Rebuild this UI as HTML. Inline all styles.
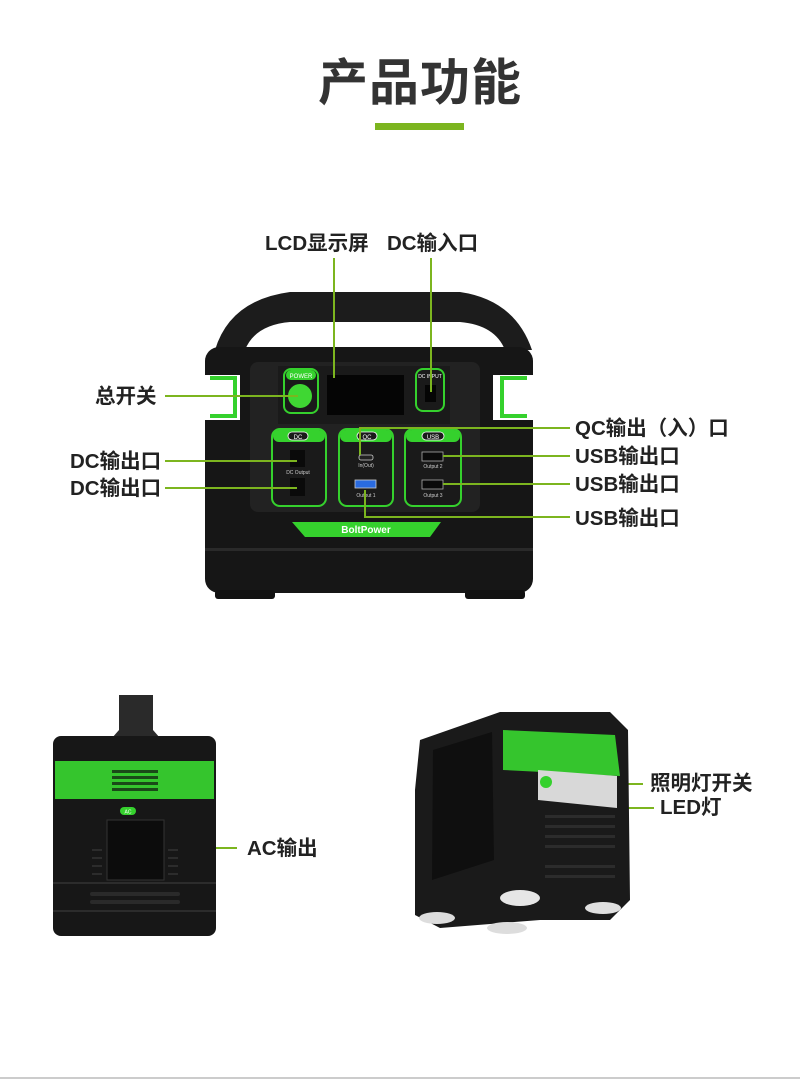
<!DOCTYPE html>
<html><head><meta charset="utf-8"><style>
html,body{margin:0;padding:0;background:#fff}
svg{display:block}
text{font-family:"Liberation Sans","Noto Sans CJK SC",sans-serif}
</style></head><body>
<svg width="800" height="1082" viewBox="0 0 800 1082" xmlns="http://www.w3.org/2000/svg">
<rect width="800" height="1082" fill="#fff"/>
<text x="420" y="100" font-size="50" font-weight="bold" fill="#333" text-anchor="middle" letter-spacing="1">产品功能</text>
<rect x="375" y="123" width="89" height="7" fill="#7cb51f"/>

<!-- main device -->
<path d="M215 350 Q230 300 290 292 L460 292 Q515 300 532 350 L505 350 Q495 325 460 322 L290 322 Q255 325 245 350Z" fill="#1c1c1c"/>
<rect x="205" y="347" width="328" height="246" rx="14" fill="#161616"/>
<rect x="205" y="375" width="35" height="45" fill="#fff"/>
<rect x="493" y="375" width="40" height="45" fill="#fff"/>
<path d="M210 378 h25 v38 h-25" fill="none" stroke="#35d12d" stroke-width="4"/>
<path d="M527 378 h-25 v38 h25" fill="none" stroke="#35d12d" stroke-width="4"/>
<rect x="250" y="362" width="230" height="150" rx="8" fill="#222"/>
<rect x="278" y="366" width="172" height="58" fill="#1a1a1a"/>
<rect x="284" y="369" width="34" height="44" rx="7" fill="#1a1a1a" stroke="#35d12d" stroke-width="2"/>
<rect x="286" y="370" width="30" height="10" rx="5" fill="#35d12d"/>
<text x="301" y="378" font-size="6" fill="#fff" text-anchor="middle">POWER</text>
<circle cx="300" cy="396" r="12" fill="#3fd733"/>
<rect x="327" y="375" width="77" height="40" fill="#050505"/>
<rect x="416" y="369" width="28" height="42" rx="7" fill="#1a1a1a" stroke="#35d12d" stroke-width="2"/>
<text x="430" y="378" font-size="5" fill="#fff" text-anchor="middle">DC INPUT</text>
<rect x="425" y="385" width="11" height="17" fill="#050505"/>
<g>
<rect x="272" y="429" width="54" height="77" rx="8" fill="#1a1a1a" stroke="#35d12d" stroke-width="2"/>
<rect x="273" y="430" width="52" height="12" rx="6" fill="#35d12d"/>
<rect x="288" y="432" width="20" height="8" rx="4" fill="#1a1a1a" stroke="#fff" stroke-width=".8"/>
<text x="298" y="439" font-size="6" fill="#fff" text-anchor="middle">DC</text>
<rect x="290" y="450" width="15" height="17" fill="#0a0a0a"/>
<text x="298" y="474" font-size="5" fill="#ccc" text-anchor="middle">DC Output</text>
<rect x="290" y="478" width="15" height="18" fill="#0a0a0a"/>
<rect x="339" y="429" width="54" height="77" rx="8" fill="#1a1a1a" stroke="#35d12d" stroke-width="2"/>
<rect x="340" y="430" width="52" height="12" rx="6" fill="#35d12d"/>
<rect x="357" y="432" width="20" height="8" rx="4" fill="#1a1a1a" stroke="#fff" stroke-width=".8"/>
<text x="367" y="439" font-size="6" fill="#fff" text-anchor="middle">QC</text>
<rect x="359" y="455" width="14" height="5" rx="2" fill="#222" stroke="#ccc" stroke-width=".8"/>
<text x="366" y="467" font-size="5" fill="#ccc" text-anchor="middle">In(Out)</text>
<rect x="355" y="480" width="21" height="8" fill="#2a6be0" stroke="#ccc" stroke-width=".8"/>
<text x="366" y="497" font-size="5" fill="#ccc" text-anchor="middle">Output 1</text>
<rect x="405" y="429" width="56" height="77" rx="8" fill="#1a1a1a" stroke="#35d12d" stroke-width="2"/>
<rect x="406" y="430" width="54" height="12" rx="6" fill="#35d12d"/>
<rect x="422" y="432" width="22" height="8" rx="4" fill="#1a1a1a" stroke="#fff" stroke-width=".8"/>
<text x="433" y="439" font-size="6" fill="#fff" text-anchor="middle">USB</text>
<rect x="422" y="452" width="21" height="9" fill="#0a0a0a" stroke="#aaa" stroke-width=".8"/>
<text x="433" y="468" font-size="5" fill="#ccc" text-anchor="middle">Output 2</text>
<rect x="422" y="480" width="21" height="9" fill="#0a0a0a" stroke="#aaa" stroke-width=".8"/>
<text x="433" y="497" font-size="5" fill="#ccc" text-anchor="middle">Output 3</text>
</g>
<path d="M292 522 L441 522 L430 537 L305 537Z" fill="#35d12d"/>
<text x="366" y="533" font-size="10" font-weight="bold" fill="#fff" text-anchor="middle">BoltPower</text>
<rect x="205" y="548" width="328" height="3" fill="#2a2a2a"/>
<rect x="215" y="590" width="60" height="9" rx="3" fill="#111"/>
<rect x="465" y="590" width="60" height="9" rx="3" fill="#111"/>

<g stroke="#7cb51f" stroke-width="2" fill="none">
<path d="M334 258 V378"/>
<path d="M431 258 V392"/>
<path d="M165 396 H298"/>
<path d="M165 461 H297"/>
<path d="M165 488 H297"/>
<path d="M360 455 V428 H570"/>
<path d="M443 456 H570"/>
<path d="M443 484 H570"/>
<path d="M365 490 V517 H570"/>
<path d="M158 848 H237"/>
<path d="M545 784 H643"/>
<path d="M605 808 H654"/>
</g>
<g font-size="20.5" font-weight="bold" fill="#222">
<text x="265" y="250">LCD显示屏</text>
<text x="387" y="250">DC输入口</text>
<text x="95" y="403">总开关</text>
<text x="70" y="468">DC输出口</text>
<text x="70" y="495">DC输出口</text>
<text x="575" y="435">QC输出（入）口</text>
<text x="575" y="463">USB输出口</text>
<text x="575" y="491">USB输出口</text>
<text x="575" y="525">USB输出口</text>
<text x="247" y="855">AC输出</text>
<text x="650" y="790">照明灯开关</text>
<text x="660" y="814">LED灯</text>
</g>

<!-- bottom left device -->
<path d="M119 695 H153 V730 L160 738 H112 L119 730Z" fill="#2a2a2a"/>
<rect x="53" y="736" width="163" height="200" rx="8" fill="#171717"/>
<rect x="55" y="761" width="159" height="38" fill="#35c52d"/>
<g fill="#1a4a18"><rect x="112" y="770" width="46" height="3"/><rect x="112" y="776" width="46" height="3"/><rect x="112" y="782" width="46" height="3"/><rect x="112" y="788" width="46" height="3"/></g>
<rect x="120" y="807" width="16" height="8" rx="4" fill="#35d12d"/>
<text x="128" y="813.5" font-size="5" fill="#fff" text-anchor="middle">AC</text>
<rect x="107" y="820" width="57" height="60" fill="#0c0c0c" stroke="#333"/>
<g fill="none" stroke="#333" stroke-width="1.5"><path d="M92 850h10M92 858h10M92 866h10M92 874h10M168 850h10M168 858h10M168 866h10M168 874h10"/></g>
<rect x="53" y="882" width="163" height="2" fill="#2c2c2c"/>
<rect x="90" y="892" width="90" height="4" rx="2" fill="#2a2a2a"/>
<rect x="90" y="900" width="90" height="4" rx="2" fill="#2a2a2a"/>
<rect x="53" y="910" width="163" height="2" fill="#2c2c2c"/>

<!-- bottom right device -->
<path d="M420 740 L500 712 L610 712 L628 730 L630 900 L610 920 L540 920 L440 928 L415 915 L415 790Z" fill="#1a1a1a"/>
<path d="M433 750 L492 732 L494 860 L432 880Z" fill="#0f0f0f"/>
<path d="M503 730 L615 735 L620 776 L503 770Z" fill="#35c52d"/>
<path d="M538 770 L617 776 L617 808 L538 800Z" fill="#d8d8d8"/>
<circle cx="546" cy="782" r="6" fill="#35d12d"/>
<g fill="#2c2c2c"><rect x="545" y="815" width="70" height="3"/><rect x="545" y="825" width="70" height="3"/><rect x="545" y="835" width="70" height="3"/><rect x="545" y="845" width="70" height="3"/><rect x="545" y="865" width="70" height="3"/><rect x="545" y="875" width="70" height="3"/></g>
<ellipse cx="520" cy="898" rx="20" ry="8" fill="#e6e6e6"/>
<ellipse cx="603" cy="908" rx="18" ry="6" fill="#e0e0e0"/>
<ellipse cx="437" cy="918" rx="18" ry="6" fill="#ddd"/>
<ellipse cx="507" cy="928" rx="20" ry="6" fill="#ddd"/>

<rect x="0" y="1077" width="800" height="2" fill="#ccc"/>
</svg>
</body></html>
